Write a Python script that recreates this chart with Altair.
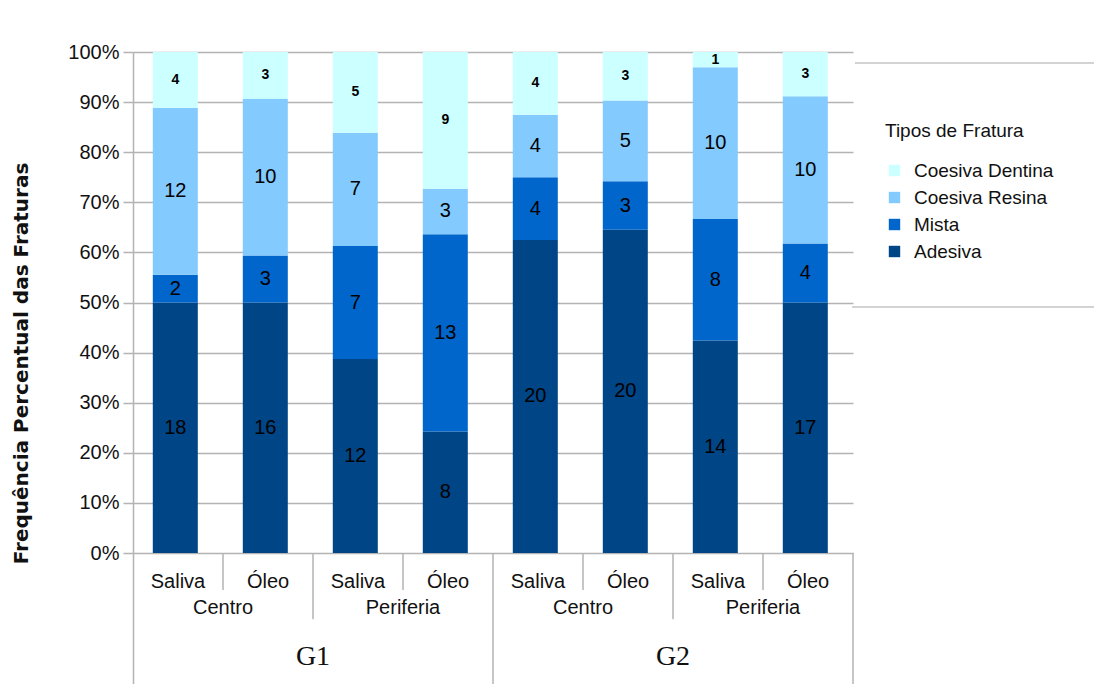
import altair as alt
import pandas as pd

# ---- data ----
grupo = ["G1", "G1", "G1", "G1", "G2", "G2", "G2", "G2"]
local = ["Centro", "Centro", "Periferia", "Periferia", "Centro", "Centro", "Periferia", "Periferia"]
meio = ["Saliva", "Óleo", "Saliva", "Óleo", "Saliva", "Óleo", "Saliva", "Óleo"]
adesiva = [18, 16, 12, 8, 20, 20, 14, 17]
mista = [2, 3, 7, 13, 4, 3, 8, 4]
coesiva_resina = [12, 10, 7, 3, 4, 5, 10, 10]
coesiva_dentina = [4, 3, 5, 9, 4, 3, 1, 3]
tipos_stack = ["Adesiva", "Mista", "Coesiva Resina", "Coesiva Dentina"]
tipos_legend = ["Coesiva Dentina", "Coesiva Resina", "Mista", "Adesiva"]
cores_legend = ["#ccffff", "#83caff", "#0066cc", "#004586"]
y_ticks = [0, 0.1, 0.2, 0.3, 0.4, 0.5, 0.6, 0.7, 0.8, 0.9, 1.0]

# ---- build tables ----
series = [adesiva, mista, coesiva_resina, coesiva_dentina]
rows = []
for i in range(len(meio)):
    total = sum(s[i] for s in series)
    cum = 0
    for t, s in zip(tipos_stack, series):
        y0 = cum / total
        cum += s[i]
        y1 = cum / total
        rows.append({"i": i, "xa": i + 0.22, "xb": i + 0.72, "xc": i + 0.47, "tipo": t,
                     "n": s[i], "y0": y0, "y1": y1, "ym": (y0 + y1) / 2,
                     "small": t == "Coesiva Dentina"})
bars = pd.DataFrame(rows)

D = 131 / 501  # extra room below 0% for the category rows
lab1 = pd.DataFrame({"x": [i + 0.5 for i in range(8)], "t": meio, "y": -0.058})
lab2 = pd.DataFrame({"x": [1, 3, 5, 7], "t": [local[0], local[2], local[4], local[6]], "y": -0.11})
lab3 = pd.DataFrame({"x": [2, 6], "t": ["G1", "G2"], "y": -0.208})
seps = pd.DataFrame({"x": [1, 3, 5, 7, 2, 6, 4, 8],
                     "y2": [-0.074] * 4 + [-0.132] * 2 + [-D] * 2})

xs = alt.Scale(domain=[0, 8], nice=False, zero=False)
ys = alt.Scale(domain=[-D, 1], nice=False, zero=False)
GRID = "#b3b3b3"
FONT = "Liberation Sans"

base_bars = alt.Chart(bars)
bar = base_bars.mark_bar().encode(
    x=alt.X("xa:Q", scale=xs, axis=None),
    x2="xb:Q",
    y=alt.Y("y0:Q", scale=ys,
            axis=alt.Axis(values=y_ticks, format=".0%", labelFontSize=20, labelFont=FONT,
                          labelColor="#111", labelPadding=4, tickSize=10, tickColor=GRID,
                          tickWidth=1.5, grid=True, gridColor=GRID, gridWidth=1.5,
                          domainColor=GRID, domainWidth=1.5,
                          title="Frequência Percentual das Fraturas", titleFont="DejaVu Sans",
                          titleFontSize=20, titleFontWeight="bold", titleColor="#111",
                          titleX=-112, titleY=311, titleAlign="center",
                          titleBaseline="middle", titleAngle=270)),
    y2="y1:Q",
    color=alt.Color("tipo:N", scale=alt.Scale(domain=tipos_legend, range=cores_legend),
                    legend=alt.Legend(title="Tipos de Fratura", orient="none",
                                      legendX=752, legendY=70, symbolType="square",
                                      symbolSize=130, symbolStrokeWidth=0,
                                      labelFont=FONT, labelFontSize=19, labelColor="#111",
                                      titleFont=FONT, titleFontSize=19, titleFontWeight="normal",
                                      titleColor="#111", titlePadding=20, rowPadding=7,
                                      labelOffset=10, padding=0)),
)

txt_big = base_bars.transform_filter("!datum.small").mark_text(
    font=FONT, fontSize=20, color="#000", baseline="middle").encode(
    x=alt.X("xc:Q", scale=xs), y=alt.Y("ym:Q", scale=ys), text="n:Q")

txt_small = base_bars.transform_filter("datum.small").mark_text(
    font=FONT, fontSize=14, fontWeight="bold", color="#000", baseline="middle").encode(
    x=alt.X("xc:Q", scale=xs), y=alt.Y("ym:Q", scale=ys), text="n:Q")

sep = alt.Chart(seps).mark_rule(color=GRID, strokeWidth=1.5).encode(
    x=alt.X("x:Q", scale=xs), y=alt.Y("z:Q", scale=ys), y2="y2:Q"
).transform_calculate(z="0")

t1 = alt.Chart(lab1).mark_text(font=FONT, fontSize=20, color="#111", baseline="middle").encode(
    x=alt.X("x:Q", scale=xs), y=alt.Y("y:Q", scale=ys), text="t:N")
t2 = alt.Chart(lab2).mark_text(font=FONT, fontSize=20, color="#111", baseline="middle").encode(
    x=alt.X("x:Q", scale=xs), y=alt.Y("y:Q", scale=ys), text="t:N")
t3 = alt.Chart(lab3).mark_text(font="Liberation Serif", fontSize=28, color="#111",
                               baseline="middle").encode(
    x=alt.X("x:Q", scale=xs), y=alt.Y("y:Q", scale=ys), text="t:N")

box_top = alt.Chart(pd.DataFrame({"a": [0]})).mark_rule(color="#c4c4c4", strokeWidth=1.5).encode(
    x=alt.value(722), x2=alt.value(961), y=alt.value(11))
box_bot = alt.Chart(pd.DataFrame({"a": [0]})).mark_rule(color="#c4c4c4", strokeWidth=1.5).encode(
    x=alt.value(719), x2=alt.value(961), y=alt.value(255))

chart = alt.layer(bar, txt_big, txt_small, sep, t1, t2, t3, box_top, box_bot).properties(
    width=720, height=632,
    padding={"left": 133, "top": 52, "right": 241, "bottom": 0},
    autosize=alt.AutoSizeParams(type="none"),
    background="white",
).configure_view(stroke=None)

chart.save("out.html", embed_options={"renderer": "svg", "actions": False})
